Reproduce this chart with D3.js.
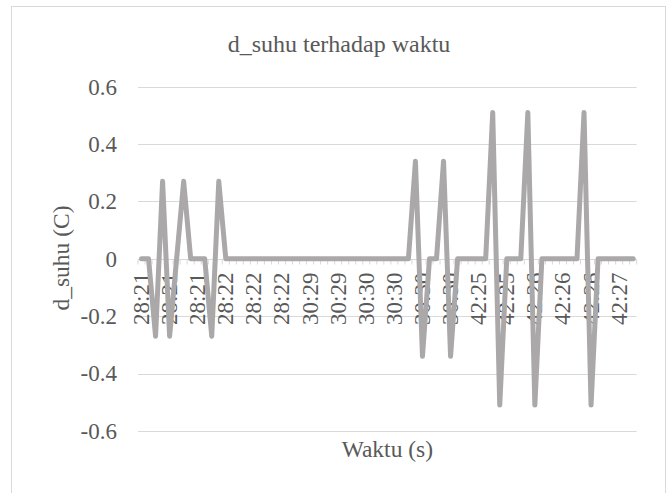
<!DOCTYPE html>
<html>
<head>
<meta charset="utf-8">
<script src="https://cdn.jsdelivr.net/npm/d3@7"></script>
<style>
  body { margin: 0; background: #fff; }
  svg { display: block; }
</style>
</head>
<body>
<svg width="667" height="493"></svg>
<script>
// values, one per reading (71 readings)
var dSuhu = [
  0, 0, -0.27, 0.27, -0.27, 0, 0.27, 0, 0, 0,
  -0.27, 0.27, 0, 0, 0, 0, 0, 0, 0, 0,
  0, 0, 0, 0, 0, 0, 0, 0, 0, 0,
  0, 0, 0, 0, 0, 0, 0, 0, 0, 0.34,
  -0.34, 0, 0, 0.34, -0.34, 0, 0, 0, 0, 0,
  0.51, -0.51, 0, 0, 0, 0.51, -0.51, 0, 0, 0,
  0, 0, 0, 0.51, -0.51, 0, 0, 0, 0, 0,
  0
];

// labels shown on the category axis, every 4th reading
var labelStep = 4;
var tickLabels = ["28:21", "28:21", "28:21", "28:22", "28:22", "28:22",
  "30:29", "30:29", "30:30", "30:30", "30:30", "30:30",
  "42:25", "42:25", "42:26", "42:26", "42:26", "42:27"];

var yTicks = [-0.6, -0.4, -0.2, 0, 0.2, 0.4, 0.6];

var FONT = "'Liberation Serif', 'Times New Roman', serif";
var TXT = "#595959";

var svg = d3.select("svg");

// chart border
svg.append("rect")
  .attr("x", 11.5).attr("y", 6.5)
  .attr("width", 654).attr("height", 492)
  .attr("fill", "#fff")
  .attr("stroke", "#d9d9d9");

var plot = { left: 138, right: 636.7, top: 86.7, bottom: 430.9 };

var x = d3.scaleBand()
  .domain(d3.range(dSuhu.length))
  .range([plot.left, plot.right]);

var y = d3.scaleLinear()
  .domain([-0.6, 0.6])
  .range([plot.bottom, plot.top]);

// horizontal gridlines
svg.append("g")
  .selectAll("line")
  .data(yTicks.filter(d => d !== 0))
  .enter().append("line")
  .attr("x1", plot.left).attr("x2", plot.right)
  .attr("y1", d => Math.round(y(d)) + 0.5)
  .attr("y2", d => Math.round(y(d)) + 0.5)
  .attr("stroke", "#d9d9d9")
  .attr("stroke-width", 1.2);

// y axis labels
var yAxis = d3.axisLeft(y)
  .tickValues(yTicks)
  .tickSize(0)
  .tickPadding(0)
  .tickFormat(d => d === 0 ? "0" : d3.format(".1f")(d).replace("\u2212", "-"));

svg.append("g")
  .attr("transform", "translate(117,0)")
  .call(yAxis)
  .call(g => g.select(".domain").remove())
  .selectAll("text")
  .style("font-family", FONT)
  .style("font-size", "23px")
  .attr("fill", TXT);

// zero line with minor ticks between categories
var zeroY = Math.round(y(0)) + 0.5;
svg.append("line")
  .attr("x1", plot.left).attr("x2", plot.right)
  .attr("y1", zeroY).attr("y2", zeroY)
  .attr("stroke", "#d9d9d9")
  .attr("stroke-width", 1.2);

svg.append("g")
  .selectAll("line")
  .data(d3.range(dSuhu.length + 1))
  .enter().append("line")
  .attr("x1", d => (d < dSuhu.length ? x(d) : plot.right))
  .attr("x2", d => (d < dSuhu.length ? x(d) : plot.right))
  .attr("y1", zeroY).attr("y2", zeroY + 5)
  .attr("stroke", "#d9d9d9");

// category labels, rotated
svg.append("g")
  .selectAll("text")
  .data(tickLabels)
  .enter().append("text")
  .attr("transform", (d, i) => "translate(" + (x(i * labelStep) + x.bandwidth() / 2 + 7.5) + "," + (zeroY + 13) + ") rotate(-90)")
  .attr("text-anchor", "end")
  .style("font-family", FONT)
  .style("font-size", "23px")
  .attr("fill", TXT)
  .text(d => d);

// the series
var line = d3.line()
  .x((d, i) => x(i) + x.bandwidth() / 2)
  .y(d => y(d));

svg.append("path")
  .datum(dSuhu)
  .attr("d", line)
  .attr("fill", "none")
  .attr("stroke", "#aaa8a8")
  .attr("stroke-width", 5)
  .attr("stroke-linejoin", "round")
  .attr("stroke-linecap", "round");

// titles
svg.append("text")
  .attr("x", 339).attr("y", 52)
  .attr("text-anchor", "middle")
  .style("font-family", FONT)
  .style("font-size", "24px")
  .attr("fill", TXT)
  .text("d_suhu terhadap waktu");

svg.append("text")
  .attr("transform", "translate(69,258) rotate(-90)")
  .attr("text-anchor", "middle")
  .style("font-family", FONT)
  .style("font-size", "23.5px")
  .attr("fill", TXT)
  .text("d_suhu (C)");

svg.append("text")
  .attr("x", (plot.left + plot.right) / 2).attr("y", 457)
  .attr("text-anchor", "middle")
  .style("font-family", FONT)
  .style("font-size", "23.5px")
  .attr("fill", TXT)
  .text("Waktu (s)");
</script>
</body>
</html>
